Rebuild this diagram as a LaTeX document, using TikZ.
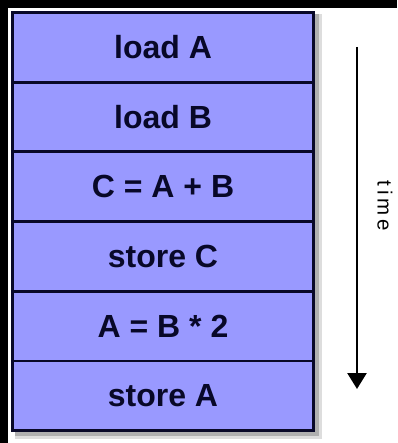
\documentclass[tikz,border=0pt]{standalone}
\usepackage{fontspec}
\setmainfont{Liberation Sans}
\usepackage{tikz}
\usetikzlibrary{arrows.meta,positioning,backgrounds}
\usepackage{xcolor}
\definecolor{rowfill}{RGB}{153,153,255}
\definecolor{rowline}{RGB}{8,8,40}
\definecolor{shadowgray}{RGB}{120,120,120}

\begin{document}
\begin{tikzpicture}[
    x=1pt, y=1pt,
    node distance=0pt,
    row/.style={draw=rowline, line width=2.8pt, fill=rowfill, outer sep=0pt, inner sep=0pt,
      minimum width=301pt, minimum height=69.7pt, font=\bfseries\fontsize{32}{36}\selectfont, text=rowline},
    frame/.style={draw=rowline, line width=3.2pt},
    timearrow/.style={-{Triangle[width=19pt,length=16pt]}, line width=2.6pt, black},
    timelabel/.style={font=\fontsize{20.5}{24}\selectfont, inner sep=0pt}
  ]
    \useasboundingbox (0,0) rectangle (397,-443);

    \node[row, anchor=north west] (loadA) at (12.5,-12.5) {load A};
    \node[row, below=of loadA] (loadB) {load B};
    \node[row, below=of loadB] (add) {C = A + B};
    \node[row, below=of add] (storeC) {store C};
    \node[row, below=of storeC] (mul) {A = B * 2};
    \node[row, below=of mul] (storeA) {store A};
    \draw[frame] (loadA.north west) rectangle (storeA.south east);

    \coordinate (tstart) at (357,-47);
    \coordinate (tend) at (357,-389);
    \draw[timearrow] (tstart) -- (tend);
    \node[timelabel, rotate=-90] (time) at (385,-206) {t\hspace{4pt}i\hspace{4pt}m\hspace{4pt}e};

    \begin{scope}[on background layer]
      \fill[white] (0,0) rectangle (397,-443);
      \fill[black] (0,0) rectangle (397,-8);
      \fill[black] (0,0) rectangle (8,-443);
      % soft drop shadow
      \fill[shadowgray, opacity=0.25] ([shift={(2,-2)}]loadA.north west) rectangle ([shift={(8,-8)}]storeA.south east);
      \fill[shadowgray, opacity=0.45] ([shift={(2,-2)}]loadA.north west) rectangle ([shift={(5.5,-5.5)}]storeA.south east);
    \end{scope}
  \end{tikzpicture}
\end{document}
